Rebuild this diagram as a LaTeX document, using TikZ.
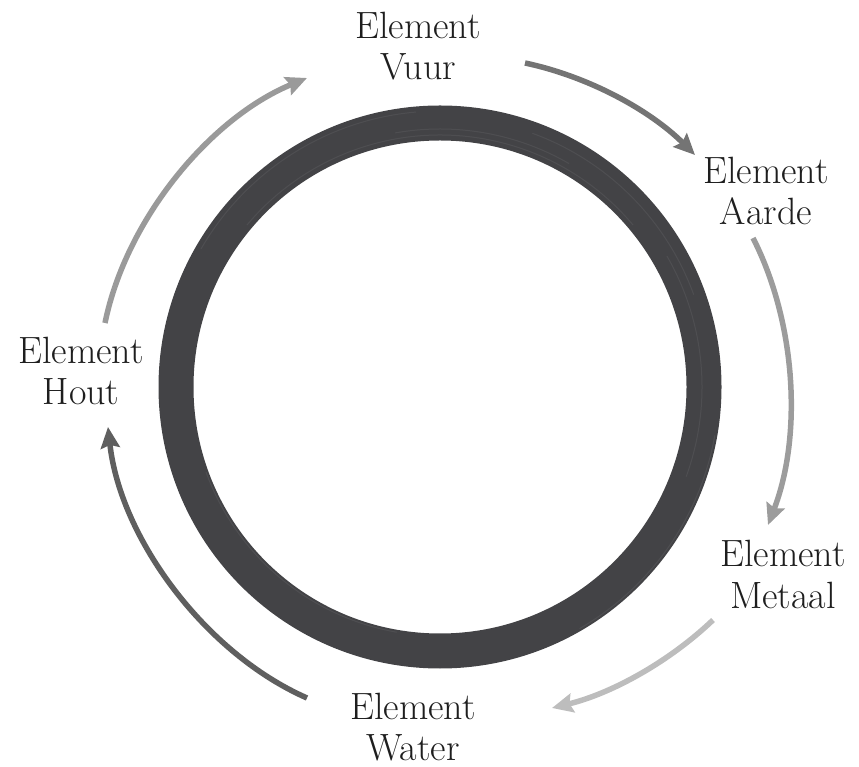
\documentclass[tikz,border=0pt]{standalone}
\usetikzlibrary{arrows.meta,calc}
\definecolor{ringc}{HTML}{434346}
\definecolor{ringl}{HTML}{5C5C60}
\definecolor{arA}{HTML}{747474}
\definecolor{arB}{HTML}{9C9C9C}
\definecolor{arC}{HTML}{BDBDBD}
\definecolor{arD}{HTML}{5F5F5F}
\definecolor{arE}{HTML}{9A9A9A}
\definecolor{txt}{HTML}{1E1E1E}
\tikzset{
  lbl/.style={align=center, inner sep=0pt, anchor=base, text=txt,
    font=\fontsize{38}{41}\selectfont},
  flow/.style={line width=5.5pt, looseness=0.85,
    -{Stealth[length=21pt,width=19pt,inset=3pt]}},
}
\begin{document}
\begin{tikzpicture}[x=1pt,y=1pt]
\useasboundingbox (0,0) rectangle (859,766);
% ring
\coordinate (c) at (440,379);
\draw[ringc, line width=35pt] (c) circle[radius=264];
\foreach \r/\a/\b in {252/40/140, 258/60/100, 270/20/70, 276/95/150, 249/200/260, 279/300/350, 262/-20/30}{
  \draw[ringl, line width=1pt, opacity=0.45] ($(c)+(\a:\r)$) arc[start angle=\a, end angle=\b, radius=\r];
}
% labels (anchor = baseline of the second line)
\node[lbl] (vuur) at (418,686) {Element\\Vuur};
\node[lbl] (aarde) at (766,541) {Element\\Aarde};
\node[lbl] (metaal) at (783,158) {Element\\Metaal};
\node[lbl] (water) at (413,6) {Element\\Water};
\node[lbl] (hout) at (81,361) {Element\\Hout};
% arrow ends
\coordinate (a1s) at (525,703); \coordinate (a1e) at (695,611);
\coordinate (a2s) at (753,528); \coordinate (a2e) at (768,241);
\coordinate (a3s) at (713,146); \coordinate (a3e) at (552,58);
\coordinate (a4s) at (307,68);  \coordinate (a4e) at (108,339);
\coordinate (a5s) at (105,443); \coordinate (a5e) at (307,688);
\draw[flow, arA] (a1s) to[bend left=16.5] (a1e);
\draw[flow, arB] (a2s) to[bend left=24] (a2e);
\draw[flow, arC] (a3s) to[bend left=15] (a3e);
\draw[flow, arD] (a4s) to[bend left=30] (a4e);
\draw[flow, arE] (a5s) to[bend left=28] (a5e);
\end{tikzpicture}
\end{document}
